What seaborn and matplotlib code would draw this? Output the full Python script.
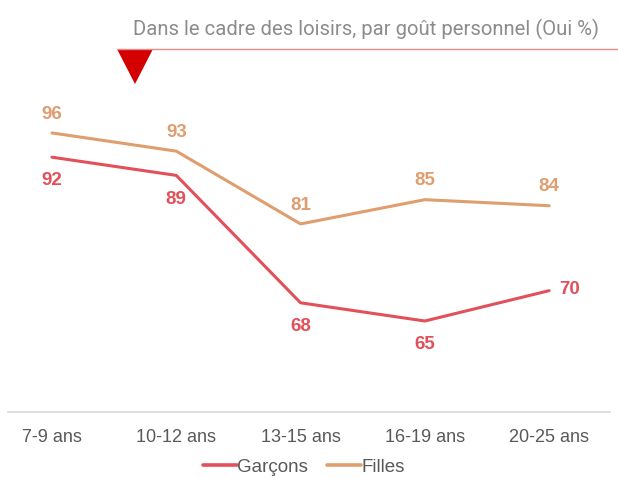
import pandas as pd
import matplotlib.pyplot as plt
import seaborn as sns
from matplotlib.patches import Polygon
from matplotlib.lines import Line2D

# Données
ages = ['7-9 ans', '10-12 ans', '13-15 ans', '16-19 ans', '20-25 ans']
garcons = [92, 89, 68, 65, 70]
filles = [96, 93, 81, 85, 84]
titre = 'Dans le cadre des loisirs, par goût personnel (Oui %)'

couleurs = {'Garçons': '#e2505a', 'Filles': '#e09d6e'}

df = pd.DataFrame({
    'pos': list(range(len(ages))) * 2,
    'Age': ages * 2,
    'Valeur': garcons + filles,
    'Groupe': ['Garçons'] * len(ages) + ['Filles'] * len(ages),
})

sns.set_style('white')
plt.rcParams['font.family'] = ['Liberation Sans', 'DejaVu Sans']

fig = plt.figure(figsize=(6.18, 4.78), dpi=100)
ax = fig.add_axes([8 / 618, 1 - 412 / 478, 602 / 618, (412 - 48) / 478])

sns.lineplot(data=df, x='pos', y='Valeur', hue='Groupe', palette=couleurs,
             linewidth=2.2, ax=ax, legend=False)

ax.set_xlim(-0.354, 4.49)
ax.set_ylim(50, 110)
ax.set_xticks(range(len(ages)))
ax.set_xticklabels(ages, fontsize=13, color='#595959')
ax.tick_params(axis='x', length=0, pad=12)
ax.set_yticks([])
ax.set_xlabel('')
ax.set_ylabel('')
for s in ['top', 'left', 'right']:
    ax.spines[s].set_visible(False)
ax.spines['bottom'].set_color('#d9d9d9')
ax.spines['bottom'].set_linewidth(1.2)

# Etiquettes des valeurs
for i, v in enumerate(filles):
    ax.annotate(str(v), (i, v), xytext=(0, 13.5), textcoords='offset points',
                ha='center', va='center', fontsize=13.5, fontweight='bold',
                color=couleurs['Filles'])
for i, v in enumerate(garcons):
    if i == len(garcons) - 1:
        ax.annotate(str(v), (i, v), xytext=(15, 1), textcoords='offset points',
                    ha='center', va='center', fontsize=13.5, fontweight='bold',
                    color=couleurs['Garçons'])
    else:
        ax.annotate(str(v), (i, v), xytext=(0, -17), textcoords='offset points',
                    ha='center', va='center', fontsize=13.5, fontweight='bold',
                    color=couleurs['Garçons'])

# Titre et décoration
fig.text(599 / 618, 1 - 29 / 478, titre, ha='right', va='center', fontsize=14.6,
         color='#8c8c8c', family=['Liberation Sans Narrow', 'Roboto', 'DejaVu Sans'])
fig.add_artist(Line2D([117 / 618, 1], [1 - 49 / 478, 1 - 49 / 478],
                      color='#e88a8a', linewidth=1.0, transform=fig.transFigure))
fig.add_artist(Polygon([[117 / 618, 1 - 49 / 478], [153 / 618, 1 - 49 / 478],
                        [135 / 618, 1 - 84 / 478]], closed=True,
                       facecolor='#d40000', edgecolor='none',
                       transform=fig.transFigure))

# Légende
handles = [Line2D([0], [0], color=couleurs[g], linewidth=2.6) for g in ['Garçons', 'Filles']]
fig.legend(handles, ['Garçons', 'Filles'], loc='center', bbox_to_anchor=(304 / 618, 1 - 467 / 478),
           ncol=2, frameon=False, fontsize=13.5, handlelength=1.8, handletextpad=0.05,
           columnspacing=1.0, labelcolor='#595959')

fig.savefig('out.png', dpi=100)
